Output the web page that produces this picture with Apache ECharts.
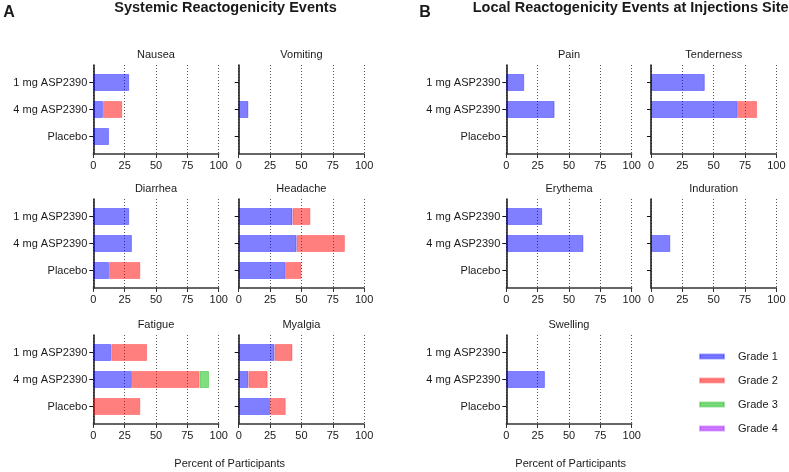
<!DOCTYPE html>
<html>
<head>
<meta charset="utf-8">
<style>
  html, body { margin: 0; padding: 0; background: #fff; }
  #chart { width: 789px; height: 472px; }
</style>
<script src="https://cdn.jsdelivr.net/npm/echarts@6/dist/echarts.min.js"></script>
</head>
<body>
<div id="chart"></div>
<script>
// Groups, grades and x ticks
const groups = ["1 mg ASP2390", "4 mg ASP2390", "Placebo"]
const grades = ["Grade 1", "Grade 2", "Grade 3", "Grade 4"]
const xTicks = [0, 25, 50, 75, 100]

// Percent of participants: one row per grade, one value per group
const nausea = [[28.6, 7.7, 12.5], [0, 15.4, 0], [0, 0, 0], [0, 0, 0]]
const vomiting = [[0, 7.7, 0], [0, 0, 0], [0, 0, 0], [0, 0, 0]]
const diarrhea = [[28.6, 30.8, 12.5], [0, 0, 25], [0, 0, 0], [0, 0, 0]]
const headache = [[42.9, 46.2, 37.5], [14.3, 38.5, 12.5], [0, 0, 0], [0, 0, 0]]
const fatigue = [[14.3, 30.8, 0], [28.6, 53.8, 37.5], [0, 7.7, 0], [0, 0, 0]]
const myalgia = [[28.6, 7.7, 25], [14.3, 15.4, 12.5], [0, 0, 0], [0, 0, 0]]
const pain = [[14.3, 38.5, 0], [0, 0, 0], [0, 0, 0], [0, 0, 0]]
const tenderness = [[42.9, 69.2, 0], [0, 15.4, 0], [0, 0, 0], [0, 0, 0]]
const erythema = [[28.6, 61.5, 0], [0, 0, 0], [0, 0, 0], [0, 0, 0]]
const induration = [[0, 15.4, 0], [0, 0, 0], [0, 0, 0], [0, 0, 0]]
const swelling = [[0, 30.8, 0], [0, 0, 0], [0, 0, 0], [0, 0, 0]]

// Panel layout (column, row)
const panels = [
  { title: "Nausea", data: nausea, col: 0, row: 0 },
  { title: "Vomiting", data: vomiting, col: 1, row: 0 },
  { title: "Diarrhea", data: diarrhea, col: 0, row: 1 },
  { title: "Headache", data: headache, col: 1, row: 1 },
  { title: "Fatigue", data: fatigue, col: 0, row: 2 },
  { title: "Myalgia", data: myalgia, col: 1, row: 2 },
  { title: "Pain", data: pain, col: 2, row: 0 },
  { title: "Tenderness", data: tenderness, col: 3, row: 0 },
  { title: "Erythema", data: erythema, col: 2, row: 1 },
  { title: "Induration", data: induration, col: 3, row: 1 },
  { title: "Swelling", data: swelling, col: 2, row: 2 },
]

const FONT = "Liberation Sans, Arial, sans-serif"
const colLeft = [93.3, 238.7, 506.3, 651]
const panelW = 125.4
const axisY = [154, 288, 424]

const fills = ["rgba(0,0,255,0.5)", "rgba(255,0,0,0.5)", "rgba(0,190,0,0.5)", "rgba(160,0,255,0.5)"]
const borders = ["rgba(0,0,255,0.35)", "rgba(255,0,0,0.3)", "rgba(0,170,0,0.35)", "rgba(150,0,255,0.35)"]

const grids = []
const xAxes = []
const yAxes = []
const series = []
const graphics = []

function txt(text, x, y, size, bold) {
  return {
    type: "text",
    x: x,
    y: y,
    style: {
      text: text,
      font: (bold ? "bold " : "") + size + "px " + FONT,
      fill: "#1a1a1a",
      textAlign: "center",
      align: "center",
      textVerticalAlign: "middle",
      verticalAlign: "middle",
    },
  }
}

panels.forEach((p, i) => {
  const left = colLeft[p.col]
  const yb = axisY[p.row]

  // frame grid: axis lines, x ticks, dotted grid lines
  grids.push({ left: left, width: panelW, top: yb - 89, height: 89 })
  // bar grid: a bit shorter, so the bands sit inside the axis line
  grids.push({ left: left, width: panelW, top: yb - 85, height: 81 })

  xAxes.push({
    gridIndex: 2 * i,
    type: "value",
    min: xTicks[0],
    max: xTicks[xTicks.length - 1],
    interval: xTicks[1] - xTicks[0],
    axisLine: { show: true, lineStyle: { color: "#333", width: 1.5 } },
    axisTick: { show: true, length: 4, lineStyle: { color: "#333", width: 1 } },
    axisLabel: { fontSize: 11, color: "#1a1a1a", margin: 6, fontFamily: FONT },
    splitLine: { show: true, lineStyle: { type: [1, 2], color: "#555", width: 1 } },
  })
  xAxes.push({
    gridIndex: 2 * i + 1,
    type: "value",
    min: xTicks[0],
    max: xTicks[xTicks.length - 1],
    show: false,
  })

  yAxes.push({
    gridIndex: 2 * i,
    type: "category",
    data: groups,
    inverse: true,
    axisLine: { show: true, lineStyle: { color: "#111", width: 1.5 } },
    axisTick: { show: false },
    axisLabel: { show: false },
  })
  yAxes.push({
    gridIndex: 2 * i + 1,
    type: "category",
    data: groups,
    inverse: true,
    axisLine: { show: false },
    axisTick: { show: true, alignWithLabel: true, length: 4, lineStyle: { color: "#111", width: 1 } },
    axisLabel: { show: p.col % 2 === 0, fontSize: 11, color: "#1a1a1a", margin: 6, fontFamily: FONT },
  })

  grades.forEach((g, k) => {
    series.push({
      type: "bar",
      name: g,
      xAxisIndex: 2 * i + 1,
      yAxisIndex: 2 * i + 1,
      stack: "p" + i,
      barWidth: 17,
      data: p.data[k].map((v) => (v > 0 ? v : null)),
      itemStyle: { color: fills[k], borderColor: borders[k], borderWidth: 1 },
      emphasis: { disabled: true },
    })
  })

  graphics.push(txt(p.title, left + panelW / 2, yb - 99, 11, false))
})

// headings and axis names
graphics.push(txt("A", 9, 13, 16, true))
graphics.push(txt("Systemic Reactogenicity Events", 225.5, 8, 14.5, true))
graphics.push(txt("B", 425, 13, 16, true))
graphics.push(txt("Local Reactogenicity Events at Injections Site", 630.7, 8, 14.5, true))
graphics.push(txt("Percent of Participants", 229.7, 464.3, 11, false))
graphics.push(txt("Percent of Participants", 570.7, 464.3, 11, false))

const chart = echarts.init(document.getElementById("chart"))
chart.setOption({
  animation: false,
  textStyle: { fontFamily: FONT },
  grid: grids,
  xAxis: xAxes,
  yAxis: yAxes,
  series: series,
  graphic: graphics,
  legend: {
    data: grades,
    orient: "vertical",
    left: 694,
    top: 346,
    itemWidth: 24,
    itemHeight: 4,
    itemGap: 13,
    icon: "rect",
    textStyle: { fontSize: 11, color: "#1a1a1a", fontFamily: FONT, padding: [0, 0, 0, 9] },
    selectedMode: false,
  },
})
</script>
</body>
</html>
